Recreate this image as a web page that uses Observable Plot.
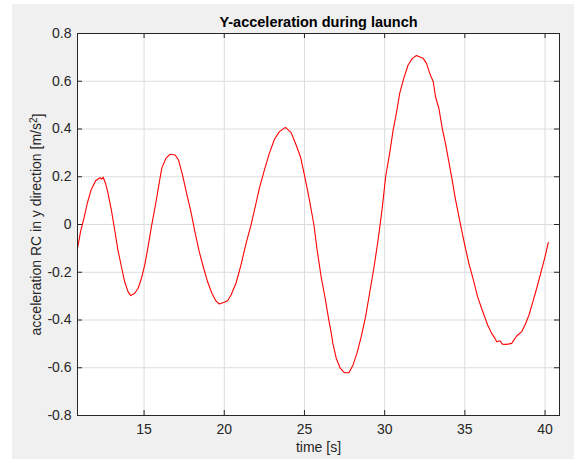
<!DOCTYPE html>
<html>
<head>
<meta charset="utf-8">
<script src="https://cdn.jsdelivr.net/npm/d3@7"></script>
<script src="https://cdn.jsdelivr.net/npm/@observablehq/plot@0.6"></script>
<style>
  html, body { margin: 0; padding: 0; background: #ffffff; }
  #fig {
    position: absolute; left: 12px; top: 4px; width: 562px; height: 455px;
    background: #f0f0f0;
  }
  #chart { position: absolute; left: 0; top: 0; }
  #chart svg { background: transparent; }
</style>
</head>
<body>
<div id="fig"></div>
<div id="chart"></div>
<script>
// Time stamps of the sampled launch trace [s]
const time = [
  10.85, 11.04, 11.25, 11.46, 11.71, 11.98, 12.25, 12.35, 12.45, 12.6, 12.75, 12.96,
  13.17, 13.37, 13.59, 13.79, 14.0, 14.17, 14.42, 14.63, 14.84, 15.04, 15.25, 15.46,
  15.73, 15.94, 16.1, 16.36, 16.61, 16.94, 17.15, 17.4, 17.65, 17.92, 18.19, 18.44,
  18.69, 18.96, 19.23, 19.48, 19.69, 20.0, 20.21, 20.42, 20.73, 21.04, 21.36, 21.67,
  21.98, 22.19, 22.5, 22.81, 23.13, 23.44, 23.81, 24.17, 24.48, 24.75, 25.0, 25.31,
  25.59, 25.79, 26.04, 26.29, 26.5, 26.67, 26.77, 26.98, 27.23, 27.5, 27.77, 28.03,
  28.27, 28.54, 28.81, 29.06, 29.34, 29.59, 29.86, 30.06, 30.31, 30.53, 30.73, 30.94,
  31.19, 31.46, 31.73, 31.98, 32.2, 32.4, 32.61, 32.81, 33.03, 33.17, 33.38, 33.59,
  33.79, 34.0, 34.21, 34.42, 34.63, 34.84, 35.04, 35.25, 35.53, 35.79, 36.08, 36.42,
  36.67, 36.88, 36.98, 37.19, 37.34, 37.6, 37.92, 38.23, 38.54, 38.75, 39.0, 39.21,
  39.48, 39.75, 40.0, 40.2
];

// RC acceleration in the y direction [m/s^2]
const accY = [
  -0.10, -0.03, 0.026, 0.089, 0.147, 0.183, 0.196, 0.19, 0.198, 0.172, 0.131, 0.061,
  -0.023, -0.107, -0.177, -0.240, -0.281, -0.298, -0.288, -0.267, -0.225, -0.170, -0.093, -0.009,
  0.089, 0.172, 0.235, 0.277, 0.294, 0.291, 0.270, 0.207, 0.131, 0.054, -0.037, -0.114,
  -0.177, -0.240, -0.288, -0.320, -0.333, -0.326, -0.319, -0.295, -0.246, -0.170, -0.079, -0.002,
  0.089, 0.152, 0.228, 0.298, 0.357, 0.389, 0.407, 0.385, 0.333, 0.284, 0.207, 0.103,
  -0.002, -0.107, -0.219, -0.309, -0.393, -0.455, -0.498, -0.560, -0.602, -0.621, -0.621, -0.588,
  -0.540, -0.470, -0.386, -0.288, -0.177, -0.065, 0.075, 0.200, 0.298, 0.396, 0.466, 0.550,
  0.612, 0.668, 0.696, 0.708, 0.702, 0.696, 0.675, 0.633, 0.598, 0.535, 0.487, 0.403,
  0.340, 0.263, 0.186, 0.103, 0.033, -0.037, -0.100, -0.163, -0.232, -0.302, -0.358, -0.421,
  -0.456, -0.477, -0.491, -0.487, -0.501, -0.502, -0.498, -0.467, -0.449, -0.421, -0.379, -0.330,
  -0.267, -0.198, -0.135, -0.076
];

const xTicks = [15, 20, 25, 30, 35, 40];
const yTicks = [-0.8, -0.6, -0.4, -0.2, 0, 0.2, 0.4, 0.6, 0.8];
const yTickLabels = ["-0.8", "-0.6", "-0.4", "-0.2", "0", "0.2", "0.4", "0.6", "0.8"];

const titleText = "Y-acceleration during launch";
const xLabel = "time [s]";
const yLabelMain = "acceleration RC in y direction [m/s";
const yLabelSup = "2";
const yLabelEnd = "]";

const samples = time.map((t, i) => ({t, a: accY[i]}));

const W = 574, H = 459;
const mL = 77, mT = 33, mR = 15, mB = 44;
const innerW = W - mL - mR, innerH = H - mT - mB;
const tickLen = 5;
const axisColor = "#262626";
const gridColor = "#dcdcdc";
const font = "'Liberation Sans', Arial, Helvetica, sans-serif";

const chart = Plot.plot({
  width: W,
  height: H,
  marginLeft: mL,
  marginTop: mT,
  marginRight: mR,
  marginBottom: mB,
  style: {fontFamily: font, fontSize: "14px", color: axisColor, background: "transparent"},
  x: {domain: [10.85, 40.9]},
  y: {domain: [-0.8, 0.8]},
  marks: [
    Plot.frame({fill: "#ffffff"}),
    Plot.gridX(xTicks, {stroke: gridColor, strokeOpacity: 1}),
    Plot.gridY(yTicks, {stroke: gridColor, strokeOpacity: 1}),
    Plot.line(samples, {x: "t", y: "a", stroke: "#ff0000", strokeWidth: 1.1}),
    // inward tick marks on all four sides
    Plot.ruleX(xTicks, {stroke: axisColor, insetTop: innerH - tickLen}),
    Plot.ruleX(xTicks, {stroke: axisColor, insetBottom: innerH - tickLen}),
    Plot.ruleY(yTicks, {stroke: axisColor, insetRight: innerW - tickLen}),
    Plot.ruleY(yTicks, {stroke: axisColor, insetLeft: innerW - tickLen}),
    Plot.frame({stroke: axisColor, strokeWidth: 1}),
    Plot.axisX(xTicks, {tickSize: 0, tickPadding: 9, label: null, fontSize: 14, fill: axisColor}),
    Plot.axisY(yTicks, {tickSize: 0, tickPadding: 6, label: null, fontSize: 14, fill: axisColor,
      tickFormat: (d) => yTickLabels[yTicks.indexOf(d)]}),
    Plot.text([titleText], {frameAnchor: "top", dy: -11, lineAnchor: "middle",
      fontWeight: "bold", fontSize: 14.5, fill: "#000000"}),
    Plot.text([xLabel], {frameAnchor: "bottom", dy: 32.5, lineAnchor: "middle",
      fontSize: 14, fill: axisColor}),
    Plot.text([yLabelMain + yLabelSup + yLabelEnd], {frameAnchor: "left", dx: -40.8, rotate: -90,
      lineAnchor: "middle", textAnchor: "middle", fontSize: 14, fill: axisColor,
      className: "ylabel"})
  ]
});

// Typeset the unit exponent of the y label as a raised, smaller "2"
const yText = chart.querySelector(".ylabel text");
if (yText) {
  yText.textContent = "";
  const ns = "http://www.w3.org/2000/svg";
  const t1 = document.createElementNS(ns, "tspan");
  t1.textContent = yLabelMain;
  const t2 = document.createElementNS(ns, "tspan");
  t2.textContent = yLabelSup;
  t2.setAttribute("dy", "-0.45em");
  t2.setAttribute("font-size", "10");
  const t3 = document.createElementNS(ns, "tspan");
  t3.textContent = yLabelEnd;
  t3.setAttribute("dy", "0.45em");
  yText.append(t1, t2, t3);
}

document.getElementById("chart").appendChild(chart);
</script>
</body>
</html>
